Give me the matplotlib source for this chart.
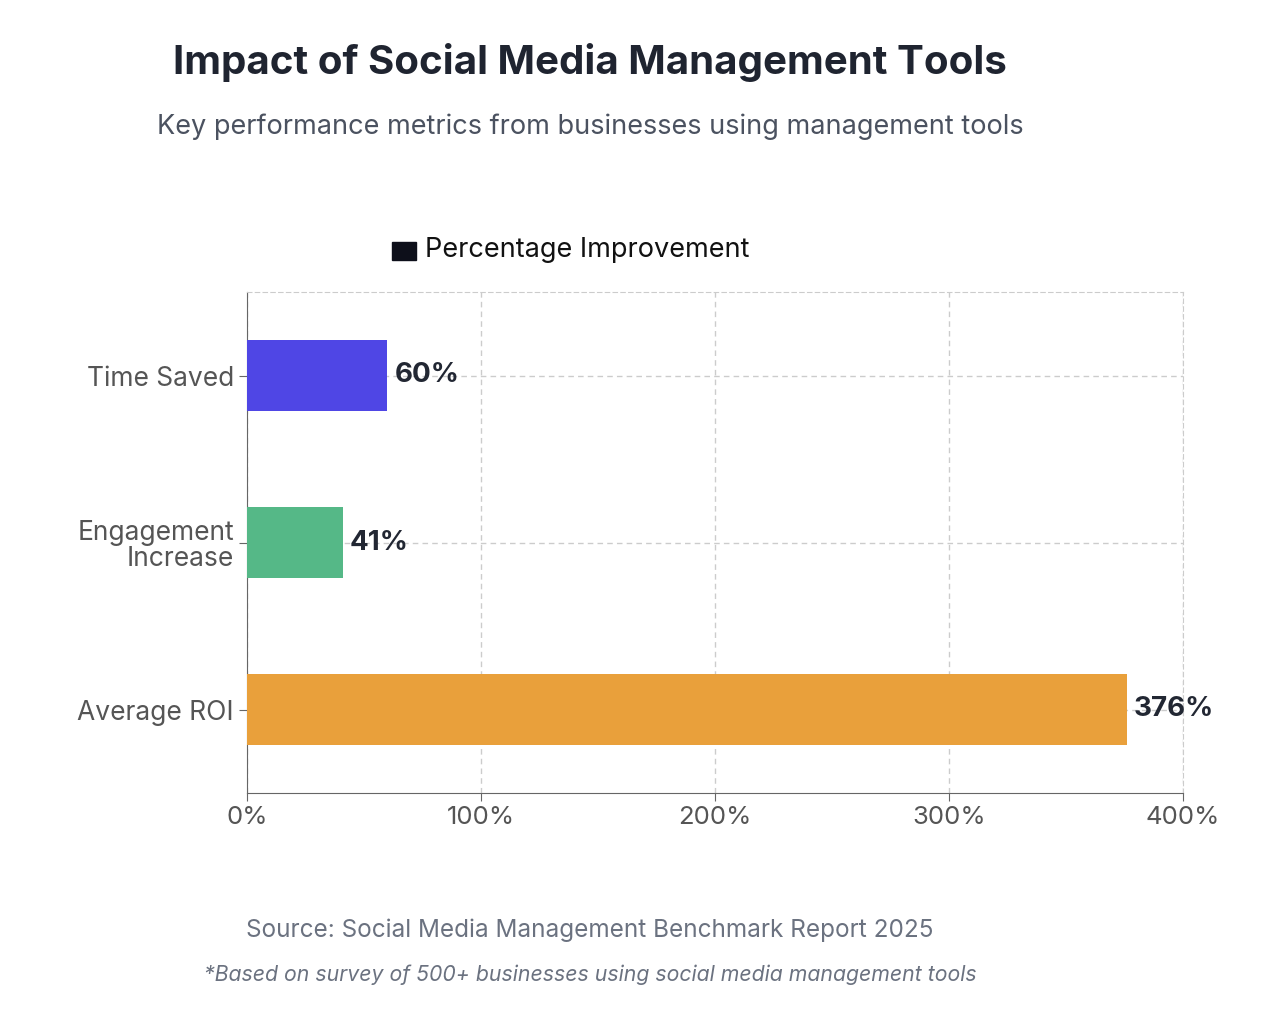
import matplotlib
matplotlib.use("Agg")
import matplotlib.pyplot as plt
from matplotlib.patches import Rectangle

categories = ["Time Saved", "Engagement\nIncrease", "Average ROI"]
values = [60, 41, 376]
colors = ["#4F46E5", "#55B887", "#E9A03B"]
xticks = [0, 100, 200, 300, 400]

plt.rcParams['font.family'] = ['Inter', 'DejaVu Sans']
fig = plt.figure(figsize=(12.84, 10.36), dpi=100)
W, H = 1284, 1036
ax = fig.add_axes([247/W, 1-793/H, (1183-247)/W, (793-292)/H])
ax.barh(range(len(values)), values, height=0.42, color=colors, zorder=3)
for i, v in enumerate(values):
    ax.text(v + 3, i, f"{v}%", va="center", ha="left", fontsize=20, fontweight="bold", color="#222733", zorder=4)
ax.set_xlim(0, 400)
ax.set_ylim(2.5, -0.5)
ax.set_yticks(range(len(categories)))
ax.set_yticklabels(categories, fontsize=19, color="#555", linespacing=1.0)
ax.set_xticks(xticks)
ax.set_xticklabels([f"{t}%" for t in xticks], fontsize=18.5, color="#555")
ax.grid(True, linestyle=(0, (4, 3)), color="#cccccc", linewidth=1, zorder=0)
for s in ["top", "right"]:
    ax.spines[s].set_linestyle((0, (4, 3)))
    ax.spines[s].set_color("#cccccc")
for s in ["left", "bottom"]:
    ax.spines[s].set_color("#666")
ax.tick_params(axis="both", length=6, color="#666")

fig.text(590/W, 1-63/H, "Impact of Social Media Management Tools", ha="center", va="center",
         fontsize=29, fontweight="bold", color="#1f2430")
fig.text(590/W, 1-127/H, "Key performance metrics from businesses using management tools", ha="center",
         va="center", fontsize=19.5, color="#4b5260")
fig.patches.append(Rectangle((392/W, 1-260/H), 24/W, 18/H, transform=fig.transFigure, color="#0d0f1a"))
fig.text(425/W, 1-250/H, "Percentage Improvement", ha="left", va="center", fontsize=19.5, color="#111")
fig.text(590/W, 1-930/H, "Source: Social Media Management Benchmark Report 2025", ha="center", va="center",
         fontsize=17.5, color="#6b7280")
fig.text(590/W, 1-975/H, "*Based on survey of 500+ businesses using social media management tools", ha="center",
         va="center", fontsize=15.3, style="italic", color="#6b7280")
fig.savefig("out.png", dpi=100, facecolor="white")
